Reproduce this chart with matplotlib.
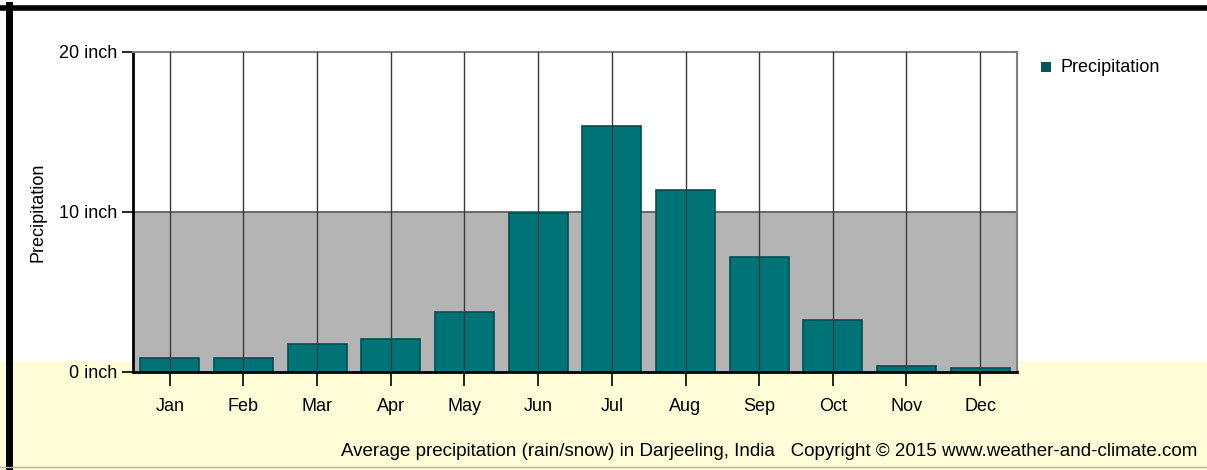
import matplotlib
matplotlib.use("Agg")
import matplotlib.pyplot as plt
from matplotlib.patches import Rectangle

months = ["Jan", "Feb", "Mar", "Apr", "May", "Jun",
          "Jul", "Aug", "Sep", "Oct", "Nov", "Dec"]
precip = [0.9, 0.85, 1.75, 2.05, 3.75, 9.95, 15.4, 11.35, 7.2, 3.25, 0.4, 0.25]
yticks = [0, 10, 20]
ytick_labels = ["0 inch", "10 inch", "20 inch"]

plt.rcParams["font.family"] = ["Liberation Sans", "DejaVu Sans"]

W, H = 1207, 470
fig = plt.figure(figsize=(W / 100, H / 100), dpi=100)
fig.patch.set_facecolor("white")

# background: yellow footer band + frame lines (pixel coords)
bg = fig.add_axes([0, 0, 1, 1], zorder=-1)
bg.set_xlim(0, W)
bg.set_ylim(H, 0)
bg.axis("off")
bg.add_patch(Rectangle((0, 361), W, H - 361, facecolor="#fffdd8", edgecolor="none"))
bg.plot([0, W], [7.5, 7.5], color="black", lw=4)
bg.plot([8.5, 8.5], [5, H], color="black", lw=5)
bg.plot([0, W], [467, 467], color="#b0b0b0", lw=1)

ax = fig.add_axes([133 / W, (H - 372) / H, (1017 - 133) / W, (372 - 52) / H])
ax.set_facecolor("white")
x = list(range(len(months)))
ax.axhspan(0, 10, color="#b4b4b4", zorder=0)
ax.axhline(10, color="#606060", lw=1.3, zorder=1)
ax.bar(x, precip, width=0.8, color="#007377", edgecolor="#004f52", lw=1.2, zorder=2)
for xi in x:
    ax.axvline(xi, color="#3a3a3a", lw=1, zorder=3)

ax.set_xlim(-0.5, 11.5)
ax.set_ylim(0, 20)
ax.set_xticks(x)
ax.set_xticklabels(months, fontsize=13)
ax.set_yticks(yticks)
ax.set_yticklabels(ytick_labels, fontsize=13)
ax.tick_params(axis="x", length=10, width=1.2, direction="out", pad=9)
ax.tick_params(axis="y", length=8, width=1.2, direction="out", pad=3)
ax.spines["left"].set_linewidth(2)
ax.spines["bottom"].set_linewidth(2)
for s in ("top", "right"):
    ax.spines[s].set_color("#808080")
    ax.spines[s].set_linewidth(1.5)
ax.set_ylabel("Precipitation", fontsize=13)
ax.yaxis.set_label_coords((46 - 133) / (1017 - 133), 0.5)

# legend
bg.add_patch(Rectangle((1041, 62), 10, 10, facecolor="#00585c", edgecolor="none"))
bg.text(1061, 67, "Precipitation", fontsize=13, va="center", ha="left")

bg.text(1197, 452,
        "Average precipitation (rain/snow) in Darjeeling, India   "
        "Copyright \u00a9 2015 www.weather-and-climate.com",
        fontsize=13.5, va="center", ha="right")

fig.savefig("out.png", dpi=100)
